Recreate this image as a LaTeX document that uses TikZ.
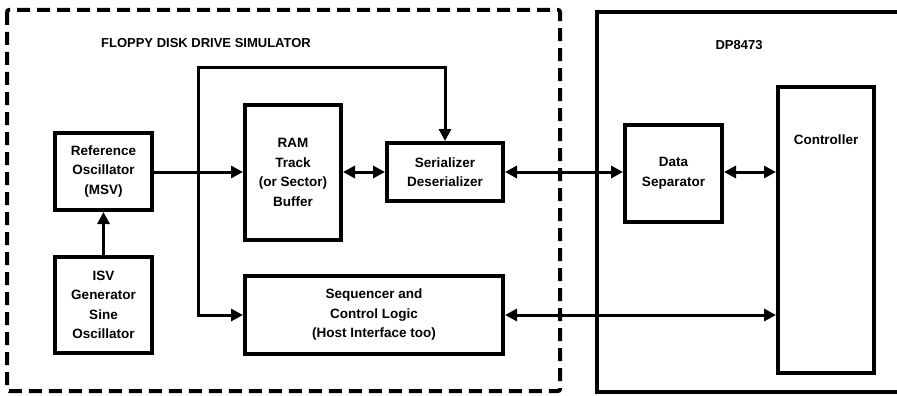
\documentclass[tikz,border=0pt]{standalone}
\usepackage{fontspec}
\setmainfont{Liberation Sans}
\usetikzlibrary{arrows.meta}
\begin{document}
\begin{tikzpicture}[x=1pt,y=-1pt,
  blk/.style={draw, line width=4pt, inner sep=0pt, align=center, font=\bfseries\fontsize{13.5}{19.5}\selectfont},
  lbl/.style={inner sep=0pt, font=\bfseries\fontsize{13}{16}\selectfont},
  conn/.style={line width=3pt, -{Triangle[length=12pt,width=12pt]}},
  bconn/.style={line width=3pt, {Triangle[length=12pt,width=12pt]}-{Triangle[length=12pt,width=12pt]}}]
\useasboundingbox (0,0) rectangle (897,396);
% outer boxes
\draw[line width=4pt, dash pattern=on 13pt off 7pt, rounded corners=2pt] (7,10) rectangle (560,391);
\draw[line width=4pt] (897,12) -- (597,12) -- (597,392) -- (897,392);
\node[lbl] (t1) at (206,43) {FLOPPY DISK DRIVE SIMULATOR};
\node[lbl] (t2) at (739,45) {DP8473};
% blocks
\node[blk, minimum width=97pt, minimum height=77pt] (ref) at (103.5,171.5) {Reference\\Oscillator\\(MSV)};
\node[blk, minimum width=97pt, minimum height=96pt] (isv) at (103.5,305) {ISV\\Generator\\Sine\\Oscillator};
\node[blk, minimum width=96pt, minimum height=135pt] (ram) at (293,172.5) {RAM\\Track\\(or Sector)\\Buffer};
\node[blk, minimum width=116pt, minimum height=58pt] (ser) at (445,172) {Serializer\\Deserializer};
\node[blk, minimum width=258pt, minimum height=78pt] (seq) at (374,315) {Sequencer and\\Control Logic\\(Host Interface too)};
\node[blk, minimum width=97pt, minimum height=97pt] (dsep) at (673.5,173.5) {Data\\Separator};
\node[blk, minimum width=96pt, minimum height=286pt] (ctl) at (826,230) {};
\node[lbl, font=\bfseries\fontsize{13.5}{16}\selectfont] (ctltxt) at (826,140) {Controller};
% connectors
\coordinate (j) at (198,172);
\draw[conn] (isv.north) -- (ref.south);
\draw[conn] (ref.east |- 0,172) -- (ram.west |- 0,172);
\draw[conn] (j) -- (198,68) -| (ser.north);
\draw[conn] (j) |- (seq.west |- 0,315);
\draw[bconn] (ram.east |- 0,172) -- (ser.west |- 0,172);
\draw[bconn] (ser.east |- 0,172) -- (dsep.west |- 0,172);
\draw[bconn] (dsep.east |- 0,172) -- (ctl.west |- 0,172);
\draw[bconn] (seq.east |- 0,315) -- (ctl.west |- 0,315);
\end{tikzpicture}
\end{document}
